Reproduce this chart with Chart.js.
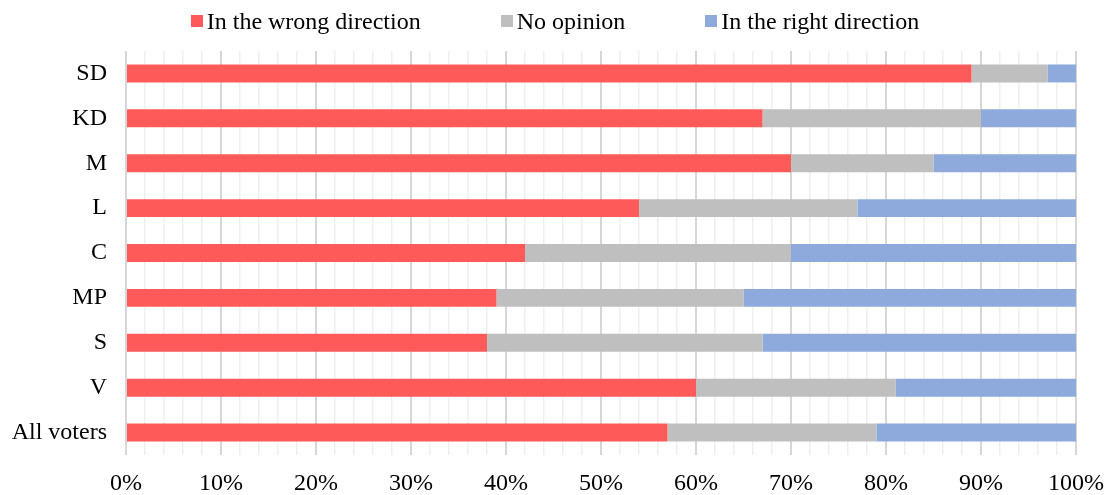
<!DOCTYPE html>
<html>
<head>
<meta charset="utf-8">
<script src="https://cdn.jsdelivr.net/npm/chart.js@4"></script>
<style>
  html, body { margin: 0; padding: 0; background: #fff; }
  .wrap { position: relative; width: 1110px; height: 495px; }
  canvas { display: block; }
  #legend {
    position: absolute; top: 9px; left: 0; width: 1110px;
    display: flex; justify-content: center; gap: 80px;
    font-family: "Liberation Serif", "Times New Roman", serif; font-size: 24px;
    line-height: 24px; color: #000;
  }
  .item { display: flex; align-items: center; }
  .box { width: 12px; height: 12px; margin-right: 4px; }
</style>
</head>
<body>
<div class="wrap">
  <div id="legend"></div>
  <canvas id="chart" width="1110" height="495"></canvas>
</div>
<script>
const parties = ['SD', 'KD', 'M', 'L', 'C', 'MP', 'S', 'V', 'All voters'];
const seriesNames = ['In the wrong direction', 'No opinion', 'In the right direction'];
const seriesColors = ['#ff5a5a', '#bfbfbf', '#8eaadc'];
const wrongDirection = [89, 67, 70, 54, 42, 39, 38, 60, 57];
const noOpinion = [8, 23, 15, 23, 28, 26, 29, 21, 22];
const rightDirection = [3, 10, 15, 23, 30, 35, 33, 19, 21];

const values = [wrongDirection, noOpinion, rightDirection];
const font = "'Liberation Serif', 'Times New Roman', serif";

// legend drawn as html so spacing can follow the original
const legend = document.getElementById('legend');
seriesNames.forEach((name, i) => {
  const item = document.createElement('div');
  item.className = 'item';
  item.innerHTML = '<span class="box" style="background:' + seriesColors[i] + '"></span><span>' + name + '</span>';
  legend.appendChild(item);
});

new Chart(document.getElementById('chart'), {
  type: 'bar',
  data: {
    labels: parties,
    datasets: seriesNames.map((name, i) => ({
      label: name,
      data: values[i],
      backgroundColor: seriesColors[i],
      borderWidth: 0,
      barPercentage: 0.4,
      categoryPercentage: 1
    }))
  },
  options: {
    indexAxis: 'y',
    responsive: false,
    animation: false,
    layout: { padding: { top: 51, left: 12, right: 34, bottom: 0 } },
    plugins: {
      legend: { display: false },
      tooltip: { enabled: false }
    },
    scales: {
      x: {
        stacked: true,
        min: 0,
        max: 100,
        border: { display: false },
        grid: {
          drawTicks: false,
          color: ctx => (ctx.tick && ctx.tick.value % 10 === 0) ? '#d6d6d6' : '#efefef',
          lineWidth: ctx => (ctx.tick && ctx.tick.value % 10 === 0) ? 2 : 1.5
        },
        ticks: {
          stepSize: 2,
          autoSkip: false,
          maxRotation: 0,
          padding: 14,
          color: '#000',
          font: { family: font, size: 24 },
          callback: v => v % 10 === 0 ? v + '%' : ''
        },
        afterFit: scale => {
          scale.height = 40;
          scale.paddingLeft = 0;
          scale.paddingRight = 0;
        }
      },
      y: {
        stacked: true,
        border: { display: false },
        grid: { display: false, drawTicks: false },
        ticks: {
          padding: 19,
          color: '#000',
          font: { family: font, size: 24 }
        },
        afterFit: scale => { scale.width = 114; }
      }
    }
  }
});
</script>
</body>
</html>
